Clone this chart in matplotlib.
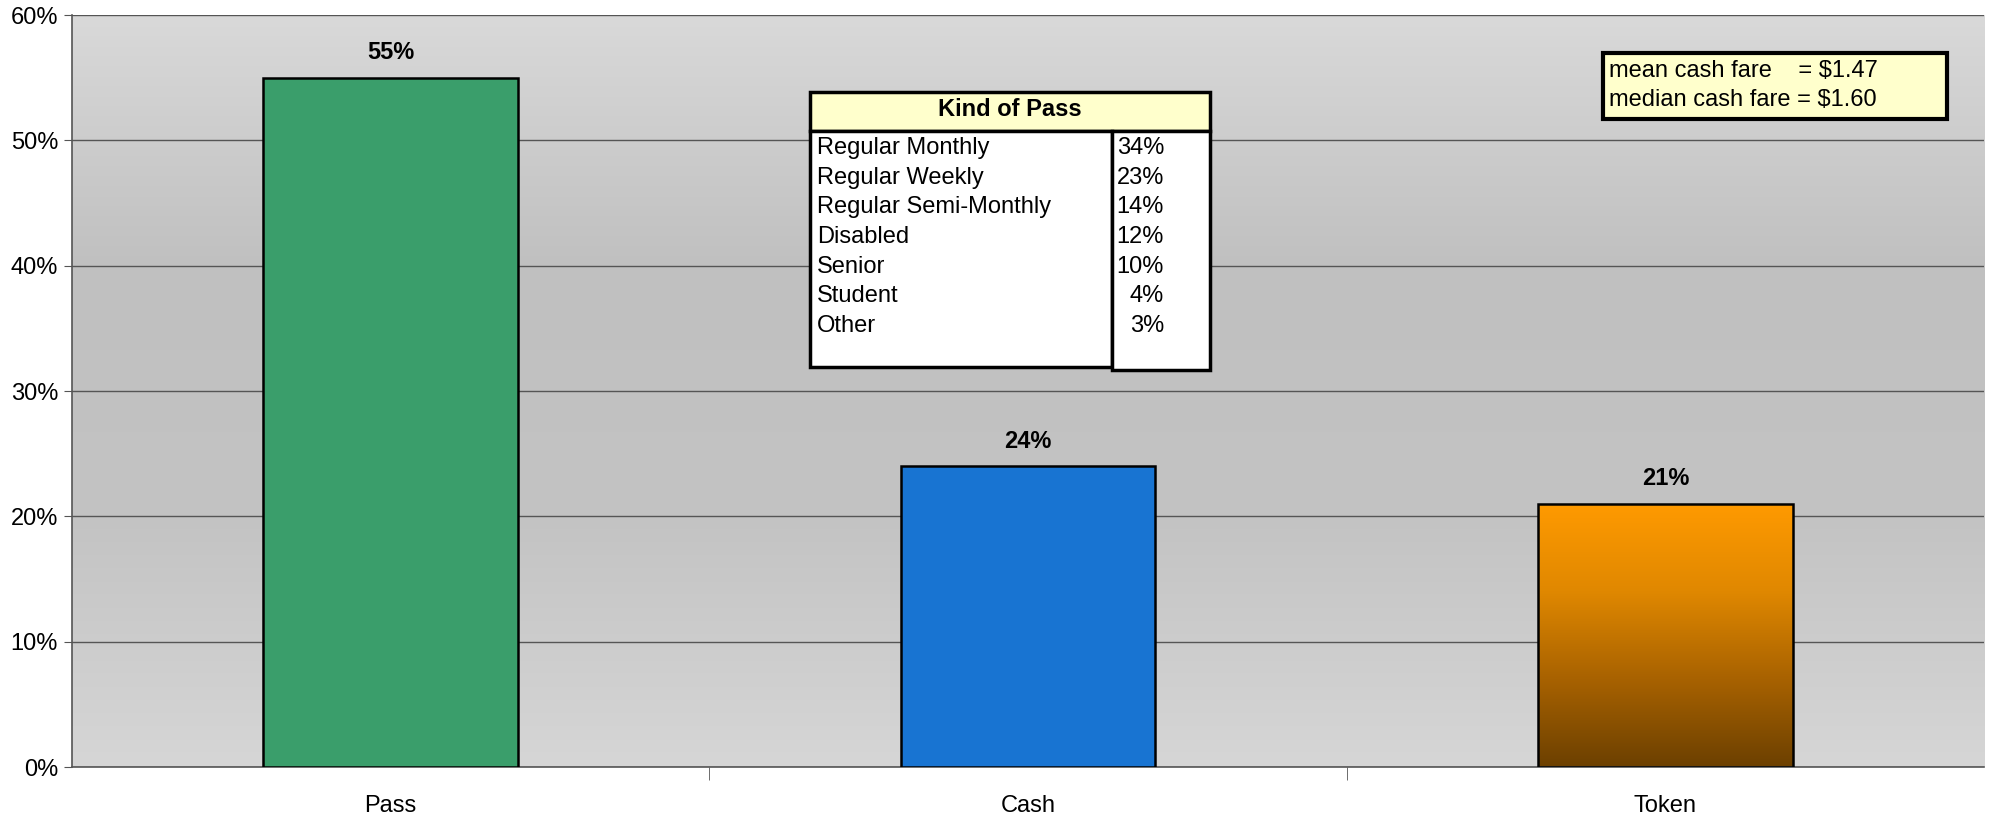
import matplotlib
matplotlib.use('Agg')
import matplotlib.pyplot as plt
import numpy as np
from matplotlib.patches import Rectangle
from matplotlib.colors import LinearSegmentedColormap
from matplotlib.ticker import MultipleLocator, FuncFormatter

plt.rcParams['font.family'] = ['Liberation Sans', 'DejaVu Sans']

# fare type shares (%)
categories = ['Pass', 'Cash', 'Token']
shares = [55, 24, 21]

# breakdown of pass types (%)
pass_kinds = ['Regular Monthly', 'Regular Weekly', 'Regular Semi-Monthly',
              'Disabled', 'Senior', 'Student', 'Other']
pass_shares = [34, 23, 14, 12, 10, 4, 3]

fare_lines = ['mean cash fare    = $1.47', 'median cash fare = $1.60']

FS = 17

W, H = 1992, 814
fig = plt.figure(figsize=(W / 100, H / 100), dpi=100, facecolor='white')
L, R, T, B = 72, 1984, 15, 767
ax = fig.add_axes([L / W, 1 - B / H, (R - L) / W, (B - T) / H])


def px(x, y):
    # pixel position -> axes fraction
    return (x - L) / (R - L), (B - y) / (B - T)


ax.set_xlim(-0.5, 2.5)
ax.set_ylim(0, 60)

# grey plot-area gradient, darkest around the middle
bg = LinearSegmentedColormap.from_list('bg', ['#d6d6d6', '#c3c3c3', '#c0c0c0', '#d9d9d9'])
grad = np.linspace(0, 1, 256).reshape(-1, 1)
ax.imshow(grad, cmap=bg, aspect='auto', extent=(-0.5, 2.5, 0, 60),
          origin='lower', zorder=0)

ax.yaxis.set_major_locator(MultipleLocator(10))
ax.yaxis.set_major_formatter(FuncFormatter(lambda v, p: f'{v:.0f}%'))
ax.grid(axis='y', color='#555555', linewidth=1.0, zorder=1)
ax.set_axisbelow(True)

x = np.arange(len(categories))
width = 0.4
colors = ['#3a9e6b', '#1874d2', 'none']
bars = ax.bar(x, shares, width=width, color=colors, edgecolor='black',
              linewidth=1.8, zorder=3)

# orange-to-brown vertical fill on the token bar
tok = bars[2]
tok_cmap = LinearSegmentedColormap.from_list('tok', ['#6c4000', '#a86200', '#e08800', '#ff9a00'])
im = ax.imshow(grad, cmap=tok_cmap, aspect='auto', origin='lower', zorder=2.5,
               extent=(tok.get_x(), tok.get_x() + tok.get_width(), 0, tok.get_height()))
im.set_clip_path(tok)

for b, v in zip(bars, shares):
    ax.text(b.get_x() + b.get_width() / 2, v + 2, f'{v}%', ha='center', va='center',
            fontsize=FS, fontweight='bold', zorder=4)

ax.set_xticks(x)
ax.set_xticklabels(categories, fontsize=FS)
ax.set_xticks([0.5, 1.5], minor=True)
ax.tick_params(axis='x', which='major', length=0, pad=20)
ax.tick_params(axis='x', which='minor', length=9, color='#555555')
ax.tick_params(axis='y', labelsize=FS, length=6, color='#555555', pad=4)
for s in ['top', 'right']:
    ax.spines[s].set_visible(False)
ax.spines['left'].set_color('#555555')
ax.spines['bottom'].set_color('#555555')
ax.spines['left'].set_linewidth(1.2)
ax.spines['bottom'].set_linewidth(1.2)


def box(x0, y0, x1, y1, fc, lw=2.5):
    ax0, ay1 = px(x0, y0)
    ax1, ay0 = px(x1, y1)
    ax.add_patch(Rectangle((ax0, ay0), ax1 - ax0, ay1 - ay0, transform=ax.transAxes,
                           facecolor=fc, edgecolor='black', linewidth=lw,
                           clip_on=False, zorder=5))


# pass-type table
box(810, 92, 1210, 131, '#ffffcc')
box(810, 131, 1112, 367, 'white')
box(1112, 131, 1210, 370, 'white')
hx, hy = px(1010, 109)
ax.text(hx, hy, 'Kind of Pass', transform=ax.transAxes, ha='center', va='center',
        fontsize=FS, fontweight='bold', zorder=6)
for i, (k, v) in enumerate(zip(pass_kinds, pass_shares)):
    ty = 148 + i * 29.7
    lx, ly = px(817, ty)
    ax.text(lx, ly, k, transform=ax.transAxes, ha='left', va='center', fontsize=FS, zorder=6)
    rx, _ = px(1164, ty)
    ax.text(rx, ly, f'{v}%', transform=ax.transAxes, ha='right', va='center', fontsize=FS, zorder=6)

# cash fare summary box
box(1603, 53, 1947, 119, '#ffffcc', lw=3)
for i, line in enumerate(fare_lines):
    fx, fy = px(1609, 71 + i * 29)
    ax.text(fx, fy, line, transform=ax.transAxes, ha='left', va='center', fontsize=FS, zorder=6)

fig.savefig('out.png', dpi=100)
